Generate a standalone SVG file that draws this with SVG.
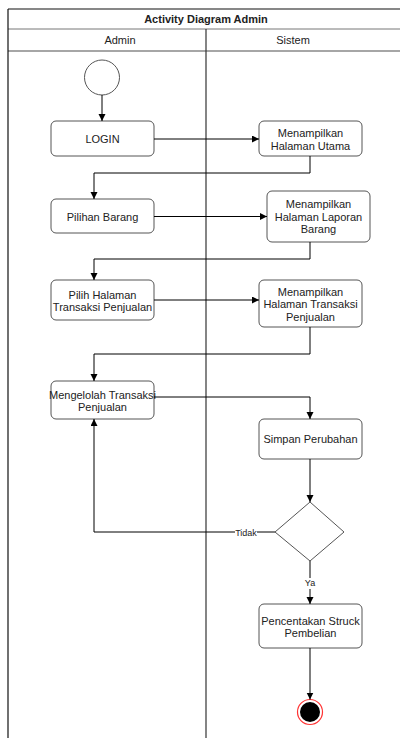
<svg xmlns="http://www.w3.org/2000/svg" width="400" height="738" viewBox="0 0 400 738">
<style>
text{font-family:"Liberation Sans",Arial,sans-serif;font-size:11px;fill:#222;text-anchor:middle;dominant-baseline:central}
.title{font-weight:bold}
.small{font-size:9px}
.box{fill:#fff;stroke:#555;stroke-width:1}
.edge{fill:none;stroke:#000;stroke-width:1;marker-end:url(#arr)}
.lbl{fill:#fff;stroke:none}
</style>
<defs>
<marker id="arr" markerUnits="userSpaceOnUse" markerWidth="8" markerHeight="8" refX="7" refY="3.5" orient="auto">
<path d="M0,0 L7,3.5 L0,7 z" fill="#000"/>
</marker>
</defs>
<g id="pool">
<rect x="8" y="9" width="400" height="740" fill="#fff" stroke="none"/>
<line x1="8" y1="9" x2="400" y2="9" stroke="#111" stroke-width="1.2"/>
<line x1="8" y1="29" x2="400" y2="29" stroke="#777" stroke-width="1"/>
<line x1="8" y1="51" x2="400" y2="51" stroke="#888" stroke-width="1.6"/>
<line x1="8" y1="9" x2="8" y2="738" stroke="#111" stroke-width="1.2"/>
<line x1="206" y1="29" x2="206" y2="738" stroke="#333" stroke-width="1.2"/>
<text class="title" x="206" y="19">Activity Diagram Admin</text>
<text x="120" y="40">Admin</text>
<text x="293" y="40">Sistem</text>
</g>
<g id="start"><circle cx="102" cy="77.5" r="17.5" fill="#fff" stroke="#555"/></g>
<g id="login"><rect class="box" x="51" y="121" width="103" height="35" rx="5"/><text x="102.5" y="139">LOGIN</text></g>
<g id="utama"><rect class="box" x="259" y="121" width="103" height="35" rx="5"/><text x="310.5" y="133">Menampilkan</text><text x="310.5" y="145.5">Halaman Utama</text></g>
<g id="pilihan"><rect class="box" x="51" y="199" width="103" height="34" rx="5"/><text x="102.5" y="216.5">Pilihan Barang</text></g>
<g id="laporan"><rect class="box" x="267" y="191" width="103" height="51" rx="5"/><text x="318.5" y="204">Menampilkan</text><text x="318.5" y="216.5">Halaman Laporan</text><text x="318.5" y="229">Barang</text></g>
<g id="pilih"><rect class="box" x="51" y="280" width="103" height="40" rx="5"/><text x="102.5" y="294.5">Pilih Halaman</text><text x="102.5" y="307">Transaksi Penjualan</text></g>
<g id="transaksi"><rect class="box" x="259" y="280" width="103" height="47" rx="5"/><text x="310.5" y="291.5">Menampilkan</text><text x="310.5" y="304">Halaman Transaksi</text><text x="310.5" y="316.5">Penjualan</text></g>
<g id="mengelolah"><rect class="box" x="51" y="381" width="103" height="38" rx="5"/><text x="102.5" y="394.5">Mengelolah Transaksi</text><text x="102.5" y="407">Penjualan</text></g>
<g id="simpan"><rect class="box" x="259" y="419" width="103" height="40" rx="5"/><text x="310.5" y="439">Simpan Perubahan</text></g>
<g id="decision"><path d="M310,502 L344,532 L310,561 L275,532 Z" fill="#fff" stroke="#555"/></g>
<g id="cetak"><rect class="box" x="259" y="604" width="103" height="44" rx="5"/><text x="310.5" y="620.5">Pencentakan Struck</text><text x="310.5" y="633">Pembelian</text></g>
<g id="end"><circle cx="310" cy="712" r="12.5" fill="#fff" stroke="#f33" stroke-width="1.2"/><circle cx="310" cy="712" r="10" fill="#000"/></g>
<g id="connectors">
<path class="edge" d="M102,95 V121"/>
<path class="edge" d="M154,139 H259"/>
<path class="edge" d="M310,156 V173 H94 V199"/>
<path class="edge" d="M154,216.5 H267"/>
<path class="edge" d="M310,242 V259 H94 V280"/>
<path class="edge" d="M154,300 H259"/>
<path class="edge" d="M310,327 V354 H94 V381"/>
<path class="edge" d="M154,397 H310 V419"/>
<path class="edge" d="M310,459 V502"/>
<path class="edge" d="M275,532 H94 V419"/>
<path class="edge" d="M310,561 V604"/>
<path class="edge" d="M310,648 V699.5"/>
<rect class="lbl" x="235" y="527" width="22" height="11"/>
<text class="small" x="246" y="532.5">Tidak</text>
<rect class="lbl" x="304" y="578" width="12" height="11"/>
<text class="small" x="310" y="583">Ya</text>
</g>
</svg>
